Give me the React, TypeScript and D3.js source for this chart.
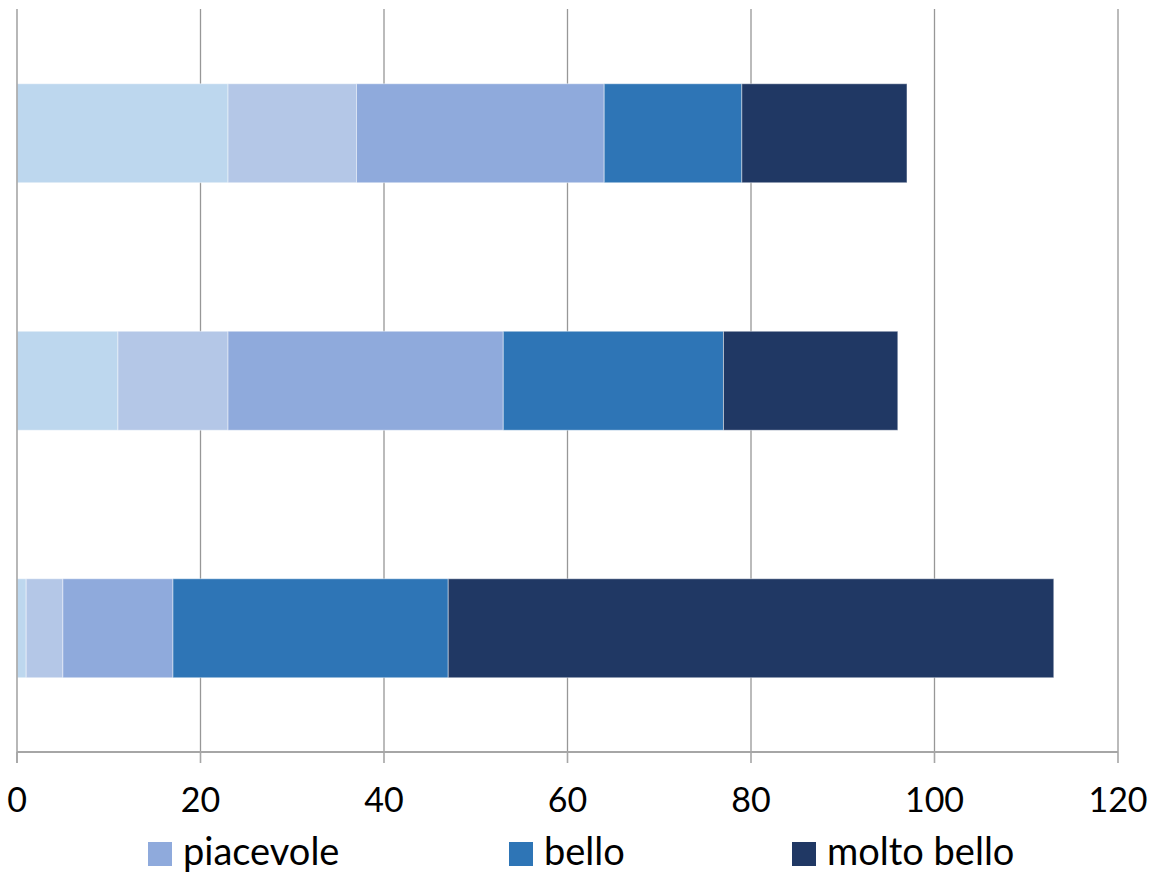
import React from "react";
import * as d3 from "d3";

const categories = ["Gruppo 1", "Gruppo 2", "Gruppo 3"];
const seriesNames = ["serie 1", "serie 2", "piacevole", "bello", "molto bello"];
const serie1 = [23, 11, 1];
const serie2 = [14, 12, 4];
const piacevole = [27, 30, 12];
const bello = [15, 24, 30];
const moltoBello = [18, 19, 66];
const xTicks = [0, 20, 40, 60, 80, 100, 120];
const legendItems = ["piacevole", "bello", "molto bello"];

const colors = ["#BDD7EE", "#B4C7E7", "#8FAADC", "#2E75B6", "#203864"];

const W = 1151;
const H = 872;

export default function App() {
  const x = d3.scaleLinear().domain([0, 120]).range([17, 1118]);
  const y = d3
    .scaleBand<string>()
    .domain(categories)
    .range([9.5, 752])
    .paddingInner(0.6)
    .paddingOuter(0.3);

  const rows = categories.map((c, i) => ({
    cat: c,
    "serie 1": serie1[i],
    "serie 2": serie2[i],
    piacevole: piacevole[i],
    bello: bello[i],
    "molto bello": moltoBello[i],
  }));
  const stacked = d3.stack<any>().keys(seriesNames)(rows);

  const legendX: Record<string, number> = { piacevole: 148, bello: 509, "molto bello": 792 };
  const font = "Lato, 'Open Sans', sans-serif";

  return (
    <div style={{ position: "absolute", left: 0, top: 0 }}>
      <svg width={W} height={H} style={{ display: "block", background: "#fff" }}>
        {xTicks.slice(1).map((t) => (
          <line key={"g" + t} x1={x(t)} x2={x(t)} y1={9} y2={752} stroke="#979797" strokeWidth={1.3} />
        ))}
        {stacked.map((s, si) => (
          <g key={s.key}>
            {s.map((d, i) => (
              <rect
                key={i}
                x={x(d[0])}
                y={y(categories[i])}
                width={x(d[1]) - x(d[0])}
                height={y.bandwidth()}
                fill={colors[si]}
                stroke="rgba(255,255,255,0.45)"
                strokeWidth={1}
              />
            ))}
          </g>
        ))}
        <line x1={17} x2={17} y1={9} y2={763} stroke="#a6a6a6" strokeWidth={1.6} />
        <line x1={17} x2={1118} y1={752} y2={752} stroke="#a6a6a6" strokeWidth={1.8} />
        {xTicks.map((t) => (
          <g key={"t" + t}>
            <line x1={x(t)} x2={x(t)} y1={752} y2={763} stroke="#a6a6a6" strokeWidth={1.6} />
            <text x={x(t)} y={812} textAnchor="middle" fontFamily={font} fontSize={34} fill="#000">
              {t}
            </text>
          </g>
        ))}
        {legendItems.map((name) => {
          const idx = seriesNames.indexOf(name);
          const lx = legendX[name];
          return (
            <g key={name}>
              <rect x={lx} y={842} width={24} height={24} fill={colors[idx]} />
              <text x={lx + 35} y={865} fontFamily={font} fontSize={38} fill="#000">
                {name}
              </text>
            </g>
          );
        })}
      </svg>
    </div>
  );
}
